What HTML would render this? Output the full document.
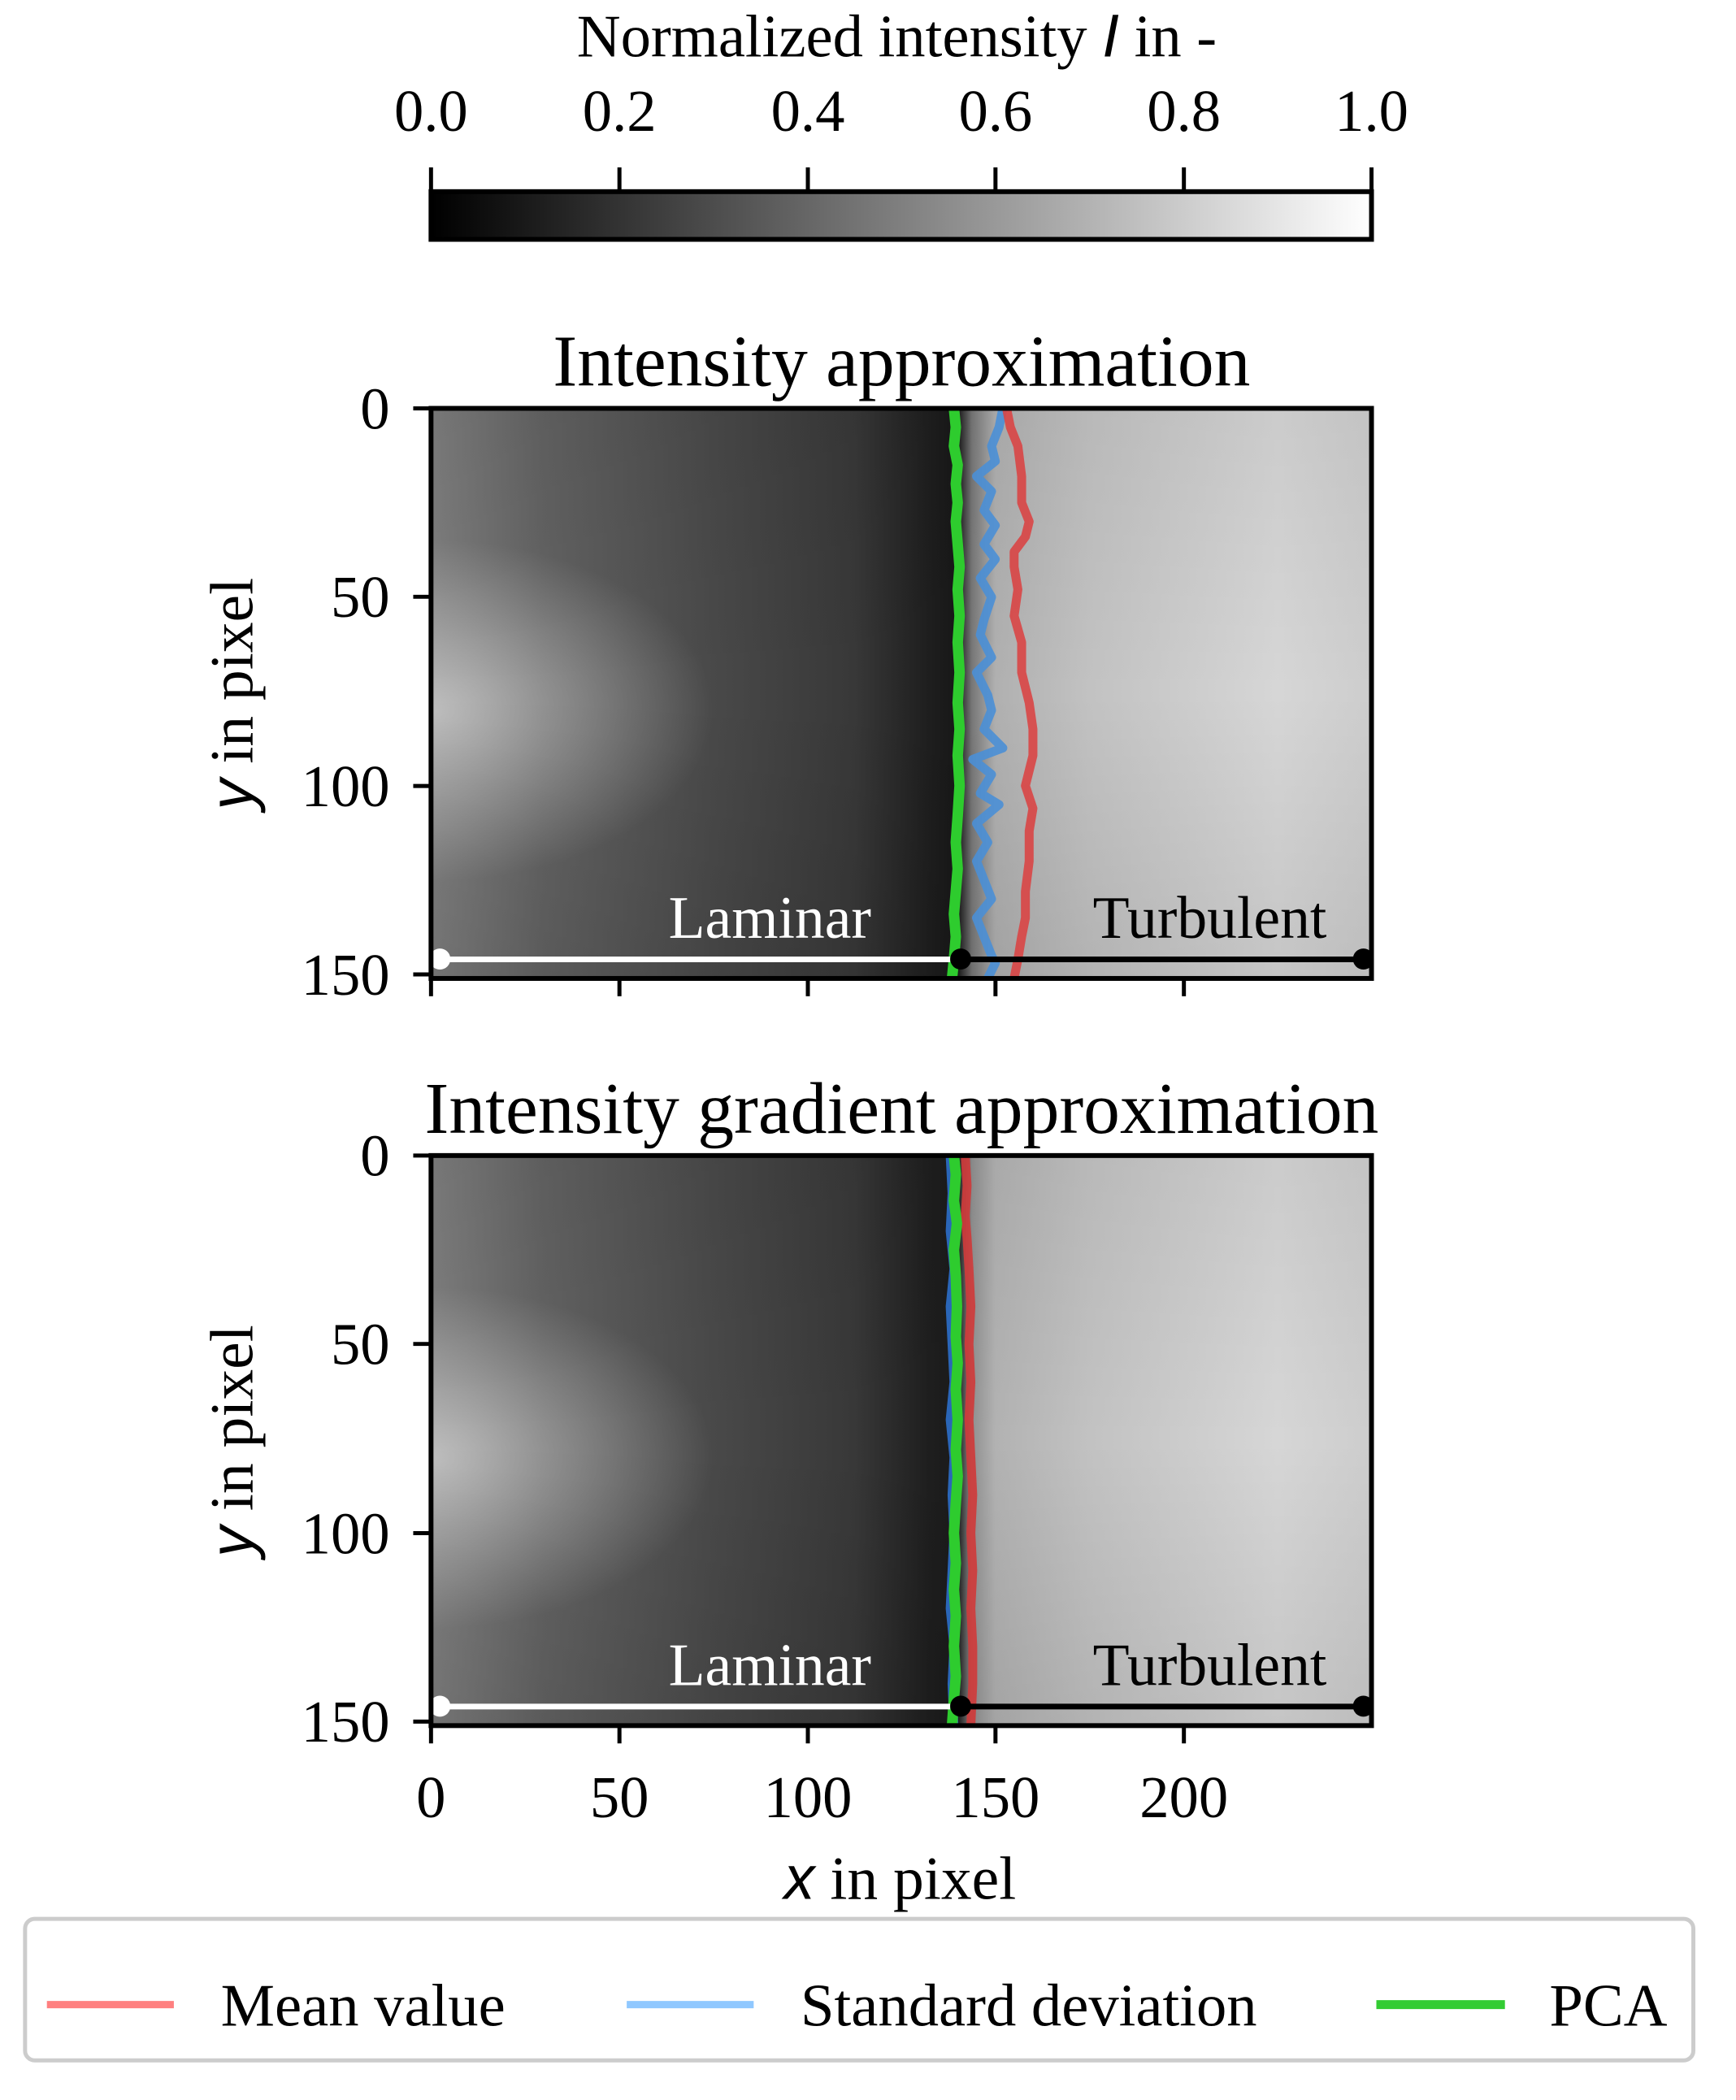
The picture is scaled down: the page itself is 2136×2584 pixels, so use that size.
<!DOCTYPE html>
<html><head><meta charset="utf-8"><style>
html,body{margin:0;padding:0;background:#fff}
svg{display:block}
text{font-family:"Liberation Serif",serif;fill:#000}
</style></head><body>
<svg width="2136" height="2584" viewBox="0 0 2136 2584" xmlns="http://www.w3.org/2000/svg">
<defs>
<linearGradient id="cb" x1="0" x2="1" y1="0" y2="0">
<stop offset="0" stop-color="#000"/><stop offset="1" stop-color="#fff"/>
</linearGradient>
<linearGradient id="bg1" x1="0" x2="1" y1="0" y2="0">
<stop offset="0" stop-color="#7e7e7e"/>
<stop offset="0.12" stop-color="#626262"/>
<stop offset="0.3" stop-color="#494949"/>
<stop offset="0.45" stop-color="#383838"/>
<stop offset="0.53" stop-color="#1e1e1e"/>
<stop offset="0.56" stop-color="#171717"/>
<stop offset="0.575" stop-color="#777"/>
<stop offset="0.6" stop-color="#b0b0b0"/>
<stop offset="0.7" stop-color="#c2c2c2"/>
<stop offset="0.9" stop-color="#d6d6d6"/>
<stop offset="1" stop-color="#cdcdcd"/>
</linearGradient>
<linearGradient id="bg2" x1="0" x2="1" y1="0" y2="0">
<stop offset="0" stop-color="#7e7e7e"/>
<stop offset="0.12" stop-color="#626262"/>
<stop offset="0.3" stop-color="#494949"/>
<stop offset="0.45" stop-color="#383838"/>
<stop offset="0.53" stop-color="#1e1e1e"/>
<stop offset="0.56" stop-color="#1a1a1a"/>
<stop offset="0.575" stop-color="#909090"/>
<stop offset="0.6" stop-color="#b2b2b2"/>
<stop offset="0.7" stop-color="#c2c2c2"/>
<stop offset="0.9" stop-color="#d6d6d6"/>
<stop offset="1" stop-color="#cdcdcd"/>
</linearGradient>
<radialGradient id="spot" cx="0" cy="0.53" r="0.3">
<stop offset="0" stop-color="#fff" stop-opacity="0.5"/>
<stop offset="1" stop-color="#fff" stop-opacity="0"/>
</radialGradient>
<linearGradient id="vd" x1="0" x2="0" y1="0" y2="1">
<stop offset="0" stop-color="#000" stop-opacity="0.05"/>
<stop offset="0.5" stop-color="#000" stop-opacity="0"/>
<stop offset="1" stop-color="#000" stop-opacity="0.08"/>
</linearGradient>
</defs>
<g transform="scale(0.995)">
<!-- colorbar -->
<text x="1109" y="70" font-size="75" text-anchor="middle">Normalized intensity <tspan font-family="Liberation Sans" font-style="italic">I</tspan> in -</text>
<g font-size="73" text-anchor="middle">
<text x="533" y="162">0.0</text><text x="766" y="162">0.2</text><text x="999" y="162">0.4</text>
<text x="1231" y="162">0.6</text><text x="1464" y="162">0.8</text><text x="1696" y="162">1.0</text>
</g>
<g stroke="#000" stroke-width="5">
<line x1="533" y1="207" x2="533" y2="237"/><line x1="766" y1="207" x2="766" y2="237"/>
<line x1="999" y1="207" x2="999" y2="237"/><line x1="1231" y1="207" x2="1231" y2="237"/>
<line x1="1464" y1="207" x2="1464" y2="237"/><line x1="1696" y1="207" x2="1696" y2="237"/>
</g>
<rect x="533" y="237" width="1163" height="59" fill="url(#cb)" stroke="#000" stroke-width="6"/>

<!-- top plot -->
<text x="1115" y="477" font-size="90" text-anchor="middle">Intensity approximation</text>
<rect x="533" y="505" width="1163" height="705" fill="url(#bg1)"/>
<rect x="533" y="505" width="1163" height="705" fill="url(#spot)"/>
<rect x="533" y="505" width="1163" height="705" fill="url(#vd)"/>
<g transform="translate(533,505) scale(4.652,4.667)" fill="none" stroke-linejoin="round">
<polyline vector-effect="non-scaling-stroke" stroke="#4a8fd6" stroke-opacity="0.9" stroke-width="11" points="152,0 151,5 149,10 150,14 145,18 149,22 147,27 150,31 147,36 150,40 146,45 149,50 147,56 146,60 149,66 145,70 148,76 149,80 147,85 152,90 144,93 149,97 146,102 151,105 145,110 148,115 145,120 147,125 149,130 145,135 147,140 149,145 150,147 148,151"/>
<polyline vector-effect="non-scaling-stroke" stroke="#d94545" stroke-opacity="0.9" stroke-width="11" points="153,0 154,5 156,10 157,18 157,25 159,30 158,34 155,38 155,42 156,48 155,55 157,62 157,70 159,78 160,85 160,92 159,96 158,100 160,106 159,112 159,120 158,128 158,135 157,140 156,146 155,151"/>
<polyline vector-effect="non-scaling-stroke" stroke="#2ecc2e" stroke-width="13" points="139,0 139.5,5 139,10 140,15 139.5,20 140,25 139.5,30 140,36 140.5,42 140,48 140.5,55 140,62 140.5,70 140,78 140.5,85 140,92 140.5,100 140,108 139.5,115 140,122 139.5,128 139,134 139.5,140 139,146 138.5,151"/>
<line vector-effect="non-scaling-stroke" x1="2" y1="146" x2="138" y2="146" stroke="#fff" stroke-width="7"/>
<line vector-effect="non-scaling-stroke" x1="141" y1="146" x2="248" y2="146" stroke="#000" stroke-width="7"/>
</g>
<circle cx="544" cy="1186" r="13" fill="#fff"/>
<circle cx="1188" cy="1186" r="13" fill="#000"/>
<circle cx="1686" cy="1186" r="13" fill="#000"/>
<text x="952" y="1160" font-size="74" text-anchor="middle" style="fill:#fff">Laminar</text>
<text x="1496" y="1160" font-size="74" text-anchor="middle">Turbulent</text>
<rect x="533" y="505" width="1163" height="705" fill="none" stroke="#000" stroke-width="6"/>
<g stroke="#000" stroke-width="5">
<line x1="511" y1="505" x2="533" y2="505"/><line x1="511" y1="738" x2="533" y2="738"/>
<line x1="511" y1="972" x2="533" y2="972"/><line x1="511" y1="1205" x2="533" y2="1205"/>
<line x1="533" y1="1210" x2="533" y2="1232"/><line x1="766" y1="1210" x2="766" y2="1232"/>
<line x1="999" y1="1210" x2="999" y2="1232"/><line x1="1231" y1="1210" x2="1231" y2="1232"/>
<line x1="1464" y1="1210" x2="1464" y2="1232"/>
</g>
<g font-size="73" text-anchor="end">
<text x="482" y="530">0</text><text x="482" y="763">50</text><text x="482" y="997">100</text><text x="482" y="1230">150</text>
</g>
<text transform="translate(312,858) rotate(-90)" font-size="76" text-anchor="middle"><tspan font-family="Liberation Sans" font-style="italic">y</tspan> in pixel</text>

<!-- bottom plot -->
<text x="1115" y="1401" font-size="90" text-anchor="middle">Intensity gradient approximation</text>
<rect x="533" y="1429" width="1163" height="705" fill="url(#bg2)"/>
<rect x="533" y="1429" width="1163" height="705" fill="url(#spot)"/>
<rect x="533" y="1429" width="1163" height="705" fill="url(#vd)"/>
<g transform="translate(533,1429) scale(4.652,4.667)" fill="none" stroke-linejoin="round">
<polyline vector-effect="non-scaling-stroke" stroke="#2a66b8" stroke-width="11" points="138,0 138.5,10 138,20 139,30 138,40 138.5,50 139,60 138,70 139,80 138.5,90 139,100 138.5,110 138,120 139,130 138.5,140 139,151"/>
<polyline vector-effect="non-scaling-stroke" stroke="#d03a3a" stroke-opacity="0.9" stroke-width="11" points="142,0 142.5,8 142,16 142.5,22 143,30 143.5,40 143,50 143.5,60 143,70 143.5,80 144,90 143.5,100 144,110 143.5,120 144,130 144,140 143.5,151"/>
<polyline vector-effect="non-scaling-stroke" stroke="#2ecc2e" stroke-width="13" points="139,0 139.5,5 139,12 139.8,18 139,25 139.5,32 139.8,40 139.5,48 140,55 139.5,62 140,70 139.5,78 140,85 139.5,92 139,100 139.5,108 139,115 139.5,122 139,130 139.5,138 139,144 138.5,151"/>
<line vector-effect="non-scaling-stroke" x1="2" y1="146" x2="138" y2="146" stroke="#fff" stroke-width="7"/>
<line vector-effect="non-scaling-stroke" x1="141" y1="146" x2="248" y2="146" stroke="#000" stroke-width="7"/>
</g>
<circle cx="544" cy="2110" r="13" fill="#fff"/>
<circle cx="1188" cy="2110" r="13" fill="#000"/>
<circle cx="1686" cy="2110" r="13" fill="#000"/>
<text x="952" y="2084" font-size="74" text-anchor="middle" style="fill:#fff">Laminar</text>
<text x="1496" y="2084" font-size="74" text-anchor="middle">Turbulent</text>
<rect x="533" y="1429" width="1163" height="705" fill="none" stroke="#000" stroke-width="6"/>
<g stroke="#000" stroke-width="5">
<line x1="511" y1="1429" x2="533" y2="1429"/><line x1="511" y1="1662" x2="533" y2="1662"/>
<line x1="511" y1="1896" x2="533" y2="1896"/><line x1="511" y1="2129" x2="533" y2="2129"/>
<line x1="533" y1="2134" x2="533" y2="2156"/><line x1="766" y1="2134" x2="766" y2="2156"/>
<line x1="999" y1="2134" x2="999" y2="2156"/><line x1="1231" y1="2134" x2="1231" y2="2156"/>
<line x1="1464" y1="2134" x2="1464" y2="2156"/>
</g>
<g font-size="73" text-anchor="end">
<text x="482" y="1454">0</text><text x="482" y="1687">50</text><text x="482" y="1921">100</text><text x="482" y="2154">150</text>
</g>
<text transform="translate(312,1782) rotate(-90)" font-size="76" text-anchor="middle"><tspan font-family="Liberation Sans" font-style="italic">y</tspan> in pixel</text>
<g font-size="73" text-anchor="middle">
<text x="533" y="2247">0</text><text x="766" y="2247">50</text><text x="999" y="2247">100</text>
<text x="1231" y="2247">150</text><text x="1464" y="2247">200</text>
</g>
<text x="1113" y="2348" font-size="76" text-anchor="middle"><tspan font-family="Liberation Sans" font-style="italic">x</tspan> in pixel</text>

<!-- legend -->
<rect x="31" y="2373" width="2063" height="175" rx="12" fill="#fff" stroke="#cccccc" stroke-width="5"/>
<line x1="58" y1="2479" x2="215" y2="2479" stroke="#ff8080" stroke-width="9"/>
<text x="273" y="2505" font-size="75">Mean value</text>
<line x1="775" y1="2479" x2="932" y2="2479" stroke="#90c8ff" stroke-width="9"/>
<text x="990" y="2505" font-size="75">Standard deviation</text>
<line x1="1702" y1="2479" x2="1861" y2="2479" stroke="#33cc33" stroke-width="11"/>
<text x="1916" y="2505" font-size="75">PCA</text>
</g>
</svg>
</body></html>
